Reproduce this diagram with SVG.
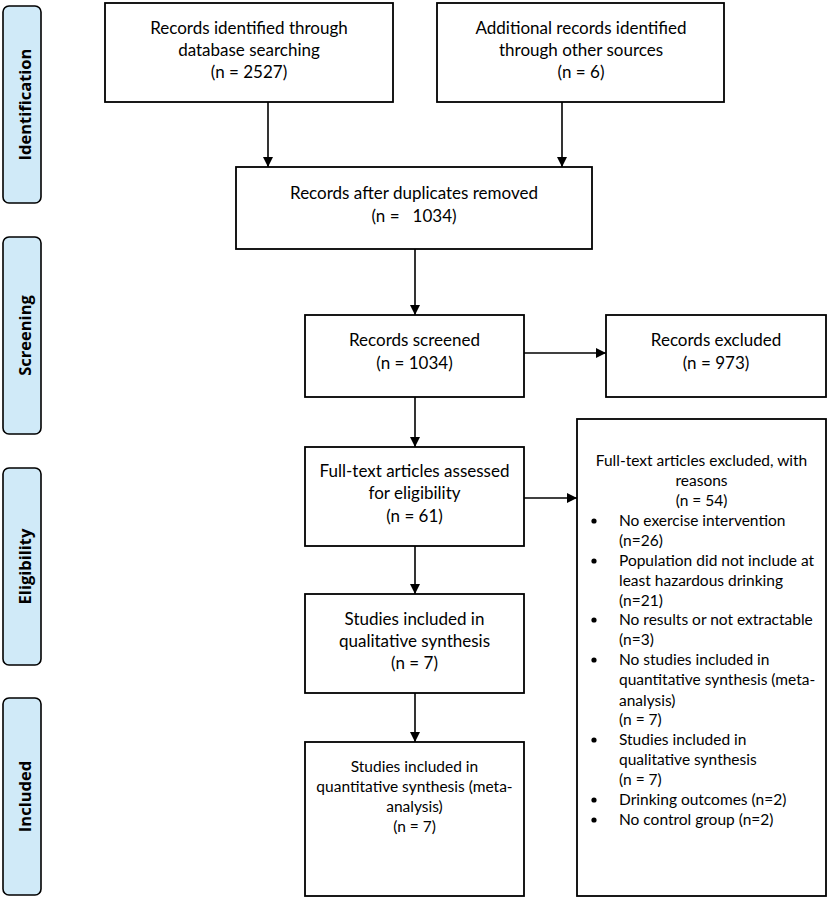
<svg xmlns="http://www.w3.org/2000/svg" width="829" height="899" viewBox="0 0 829 899">
<style>
.box{fill:#fff;stroke:#000;stroke-width:1.8}
.side{fill:#d0eaf8;stroke:#000;stroke-width:1.6}
.t{font-family:Lato,"Liberation Sans",sans-serif;font-size:17px;fill:#000;text-anchor:middle}
.s{font-family:Lato,"Liberation Sans",sans-serif;font-size:15.5px;fill:#000}
.sc{text-anchor:middle}
.lab{font-family:"Open Sans","Liberation Sans",sans-serif;font-weight:bold;font-size:16.5px;fill:#000;text-anchor:middle;dominant-baseline:central}
.c{stroke:#000;stroke-width:1.6;fill:none;marker-end:url(#ah)}
</style>
<defs>
<marker id="ah" viewBox="0 0 10 10" refX="10" refY="5" markerWidth="10" markerHeight="10" markerUnits="userSpaceOnUse" orient="auto">
<path d="M0,0 L10,5 L0,10 z" fill="#000"/>
</marker>
</defs>
<rect x="0" y="0" width="829" height="899" fill="#fff"/>
<g id="side-identification"><rect class="side" x="3" y="6" width="38" height="197" rx="6"/><text class="lab" transform="translate(24,104.5) rotate(-90)">Identification</text></g>
<g id="side-screening"><rect class="side" x="3" y="237" width="38" height="197" rx="6"/><text class="lab" transform="translate(24,335.5) rotate(-90)">Screening</text></g>
<g id="side-eligibility"><rect class="side" x="3" y="468" width="38" height="197" rx="6"/><text class="lab" transform="translate(24,566.5) rotate(-90)">Eligibility</text></g>
<g id="side-included"><rect class="side" x="3" y="698" width="38" height="197" rx="6"/><text class="lab" transform="translate(24,796.5) rotate(-90)">Included</text></g>

<g id="connectors">
<line class="c" x1="268" y1="102" x2="268" y2="167"/>
<line class="c" x1="562" y1="102" x2="562" y2="167"/>
<line class="c" x1="415" y1="249" x2="415" y2="315"/>
<line class="c" x1="524" y1="353" x2="606" y2="353"/>
<line class="c" x1="415" y1="397" x2="415" y2="447"/>
<line class="c" x1="524" y1="498" x2="577" y2="498"/>
<line class="c" x1="415" y1="546" x2="415" y2="594"/>
<line class="c" x1="415" y1="693" x2="415" y2="742"/>
</g>

<g id="n-database"><rect class="box" x="105" y="3" width="288" height="99"/>
<text class="t" x="249" y="34">Records identified through</text>
<text class="t" x="249" y="56">database searching</text>
<text class="t" x="249" y="78">(n = 2527)</text></g>

<g id="n-other"><rect class="box" x="437" y="3" width="287" height="99"/>
<text class="t" x="581" y="34">Additional records identified</text>
<text class="t" x="581" y="56">through other sources</text>
<text class="t" x="581" y="78">(n = 6)</text></g>

<g id="n-duplicates"><rect class="box" x="236" y="167" width="356" height="82"/>
<text class="t" x="414" y="199">Records after duplicates removed</text>
<text class="t" x="414" y="222" xml:space="preserve">(n =   1034)</text></g>

<g id="n-screened"><rect class="box" x="305" y="315" width="219" height="82"/>
<text class="t" x="414.5" y="346">Records screened</text>
<text class="t" x="414.5" y="369">(n = 1034)</text></g>

<g id="n-excluded"><rect class="box" x="606" y="315" width="220" height="82"/>
<text class="t" x="716" y="346">Records excluded</text>
<text class="t" x="716" y="369">(n = 973)</text></g>

<g id="n-assessed"><rect class="box" x="305" y="447" width="219" height="99"/>
<text class="t" x="414.5" y="477">Full-text articles assessed</text>
<text class="t" x="414.5" y="499">for eligibility</text>
<text class="t" x="414.5" y="522">(n = 61)</text></g>

<g id="n-qualitative"><rect class="box" x="305" y="594" width="219" height="99"/>
<text class="t" x="414.5" y="625">Studies included in</text>
<text class="t" x="414.5" y="647">qualitative synthesis</text>
<text class="t" x="414.5" y="669">(n = 7)</text></g>

<g id="n-quantitative"><rect class="box" x="305" y="742" width="219" height="154"/>
<text class="s sc" x="414.5" y="772">Studies included in</text>
<text class="s sc" x="414.5" y="792">quantitative synthesis (meta-</text>
<text class="s sc" x="414.5" y="812">analysis)</text>
<text class="s sc" x="414.5" y="832">(n = 7)</text></g>

<g id="n-fulltext-excluded"><rect class="box" x="577" y="419" width="249" height="477"/>
<text class="s sc" x="701.5" y="466">Full-text articles excluded, with</text>
<text class="s sc" x="701.5" y="486">reasons</text>
<text class="s sc" x="701.5" y="506">(n = 54)</text>
<g>
<circle cx="594" cy="521" r="2.6"/><text class="s" x="619" y="526">No exercise intervention</text>
<text class="s" x="619" y="546">(n=26)</text>
<circle cx="594" cy="561" r="2.6"/><text class="s" x="619" y="566">Population did not include at</text>
<text class="s" x="619" y="586">least hazardous drinking</text>
<text class="s" x="619" y="606">(n=21)</text>
<circle cx="594" cy="620" r="2.6"/><text class="s" x="619" y="625">No results or not extractable</text>
<text class="s" x="619" y="645">(n=3)</text>
<circle cx="594" cy="660" r="2.6"/><text class="s" x="619" y="665">No studies included in</text>
<text class="s" x="619" y="685">quantitative synthesis (meta-</text>
<text class="s" x="619" y="706">analysis)</text>
<text class="s" x="619" y="725">(n = 7)</text>
<circle cx="594" cy="740" r="2.6"/><text class="s" x="619" y="745">Studies included in</text>
<text class="s" x="619" y="765">qualitative synthesis</text>
<text class="s" x="619" y="785">(n = 7)</text>
<circle cx="594" cy="800" r="2.6"/><text class="s" x="619" y="805">Drinking outcomes (n=2)</text>
<circle cx="594" cy="820" r="2.6"/><text class="s" x="619" y="825">No control group (n=2)</text>
</g></g>
</svg>
